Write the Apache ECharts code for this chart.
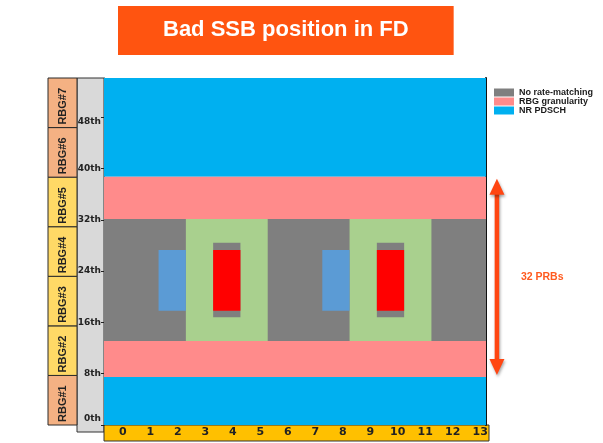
<!DOCTYPE html>
<html><head><meta charset="utf-8">
<script src="https://cdn.jsdelivr.net/npm/echarts/dist/echarts.min.js"></script>
<style>html,body{margin:0;padding:0;background:#fff}#c{width:603px;height:443px}</style>
</head><body><div id="c"></div>
<script>
// ---- data ----
const titleText = 'Bad SSB position in FD';
const symbols = ['0','1','2','3','4','5','6','7','8','9','10','11','12','13'];
const symbolCount = 14;
const prbMax = 54.1;
const prbStep = 8;
const rbgNames = ['RBG#1','RBG#2','RBG#3','RBG#4','RBG#5','RBG#6','RBG#7'];
const rbgInBand = [0,1,1,1,1,0,0];
// rectangles: [symbolStart, symbolEnd, prbStart, prbEnd]
const nrPdsch = [[0,14,0,7.5],[0,14,38.7,54.1]];
const rbgGranularity = [[0,14,7.5,13.1],[0,14,32.1,38.7]];
const noRateMatching = [[0,14,13.1,32.1]];
const greenBlocks = [[3,6,13.1,32.1],[9,12,13.1,32.1]];
const grayInner = [[4,5,16.8,28.4],[10,11,16.8,28.4]];
const redBlocks = [[4,5,17.8,27.3],[10,11,17.8,27.3]];
const blueBlocks = [[2,3,17.8,27.3],[8,9,17.8,27.3]];
const arrowSpan = [14.4, 7.8, 38.4];
const arrowText = '32 PRBs';

// ---- chart ----
const chart = echarts.init(document.getElementById('c'));
function rectRender(params, api){
  const a = api.coord([api.value(0), api.value(3)]);
  const b = api.coord([api.value(1), api.value(2)]);
  return {type:'rect', shape:{x:a[0], y:a[1], width:b[0]-a[0], height:b[1]-a[1]},
    style:{fill: api.visual('color')}};
}
function rectSeries(name, data, color, z){
  return {type:'custom', name:name, xAxisIndex:2, yAxisIndex:2, z:z, clip:false,
    itemStyle:{color:color}, encode:{x:[0,1], y:[2,3]},
    renderItem: rectRender, data:data, silent:true};
}
const rbgData = rbgNames.map((n,i)=>[0,1,i,i+1,rbgInBand[i]]);

const option = {
  animation:false,
  title:{text:titleText, left:118, top:6, backgroundColor:'#ff5410', padding:[13,45,14,45],
    textStyle:{color:'#fff', fontSize:22, fontWeight:'bold', fontFamily:'Liberation Sans', lineHeight:22}},
  legend:{data:['No rate-matching','RBG granularity','NR PDSCH'], orient:'vertical', left:494, top:88,
    itemWidth:20, itemHeight:8, itemGap:0, icon:'rect', selectedMode:false, padding:0,
    textStyle:{fontSize:9, fontWeight:'bold', color:'#1a1a1a', fontFamily:'Liberation Sans', lineHeight:8}},
  grid:[
    {left:48, top:78, width:29, height:347},
    {left:77, top:78, width:27, height:354, show:true, backgroundColor:'#d9d9d9', borderColor:'#333', borderWidth:1},
    {left:104, top:78, width:382, height:347},
    {left:104, top:425, width:385, height:16, show:true, backgroundColor:'#ffc000', borderColor:'#333', borderWidth:1}
  ],
  xAxis:[
    {gridIndex:0, type:'value', min:0, max:1, show:false},
    {gridIndex:1, type:'value', min:0, max:1, show:false},
    {gridIndex:2, type:'value', min:0, max:symbolCount, show:false},
    {gridIndex:3, type:'category', data:symbols, position:'bottom',
      axisLine:{show:false}, axisTick:{show:false}, splitLine:{show:false},
      axisLabel:{inside:true, margin:3, fontSize:11, fontWeight:'bold', fontFamily:'DejaVu Sans', color:'#222', padding:[0,0,0,10]}}
  ],
  yAxis:[
    {gridIndex:0, type:'value', min:0, max:7, show:false},
    {gridIndex:1, type:'value', min:0, max:1, show:false},
    {gridIndex:2, type:'value', min:0, max:prbMax, interval:prbStep, position:'left',
      axisLine:{show:true, lineStyle:{color:'#222', width:1}},
      axisTick:{show:true, length:3, lineStyle:{color:'#222'}},
      splitLine:{show:false},
      axisLabel:{showMaxLabel:false, margin:3, fontSize:9, fontWeight:'bold', fontFamily:'DejaVu Sans', color:'#222',
        formatter:function(v){
          if (v % prbStep !== 0) return '';
          if (v === 0) return '{lo|' + v + 'th}';
          if (v === 48) return '{hi|' + v + 'th}';
          return v + 'th';
        },
        rich:{lo:{padding:[0,0,12,0], fontSize:9, fontWeight:'bold', fontFamily:'DejaVu Sans', color:'#222'},
              hi:{padding:[9,0,0,0], fontSize:9, fontWeight:'bold', fontFamily:'DejaVu Sans', color:'#222'}}}},
    {gridIndex:2, type:'value', min:0, max:prbMax, position:'right',
      axisLine:{show:true, lineStyle:{color:'#111', width:2}}, axisTick:{show:false}, axisLabel:{show:false}, splitLine:{show:false}},
    {gridIndex:3, type:'value', show:false}
  ],
  series:[
    {type:'custom', name:'rbg', xAxisIndex:0, yAxisIndex:0, clip:false, silent:true,
      encode:{x:[0,1], y:[2,3]}, data:rbgData,
      renderItem:function(params, api){
        const a = api.coord([api.value(0), api.value(3)]);
        const b = api.coord([api.value(1), api.value(2)]);
        const inBand = api.value(4) === 1;
        return {type:'group', children:[
          {type:'rect', shape:{x:a[0], y:a[1], width:b[0]-a[0], height:b[1]-a[1]},
            style:{fill: inBand ? '#ffd966' : '#f4b183', stroke:'#2a2a2a', lineWidth:1}},
          {type:'text', x:(a[0]+b[0])/2, y:b[1]-3, rotation:Math.PI/2,
            style:{text: rbgNames[params.dataIndex], fill:'#222', align:'left', verticalAlign:'middle',
              font:'bold 11px "Liberation Sans Narrow", "Liberation Sans", sans-serif'}}
        ]};
      }},
    rectSeries('NR PDSCH', nrPdsch, '#00b0f0', 1),
    rectSeries('RBG granularity', rbgGranularity, '#ff8b8b', 1),
    rectSeries('No rate-matching', noRateMatching, '#7f7f7f', 1),
    rectSeries('green', greenBlocks, '#a9d08e', 2),
    rectSeries('grayInner', grayInner, '#7f7f7f', 3),
    rectSeries('red', redBlocks, '#ff0000', 4),
    rectSeries('blueBlocks', blueBlocks, '#5b9bd5', 4),
    {type:'custom', name:'arrow', xAxisIndex:2, yAxisIndex:2, clip:false, silent:true, z:5,
      encode:{x:0, y:[1,2]}, data:[arrowSpan],
      renderItem:function(params, api){
        const top = api.coord([api.value(0), api.value(2)]);
        const bot = api.coord([api.value(0), api.value(1)]);
        const x = top[0], hw = 7.5, hh = 16, col = '#ff4612';
        const sh = {shadowBlur:3, shadowColor:'rgba(0,0,0,0.35)', shadowOffsetX:1, shadowOffsetY:2};
        return {type:'group', children:[
          {type:'line', shape:{x1:x, y1:top[1]+hh-2, x2:x, y2:bot[1]-hh+2},
            style:Object.assign({stroke:col, lineWidth:4.5}, sh)},
          {type:'polygon', shape:{points:[[x, top[1]], [x-hw, top[1]+hh], [x+hw, top[1]+hh]]},
            style:Object.assign({fill:col}, sh)},
          {type:'polygon', shape:{points:[[x, bot[1]], [x-hw, bot[1]-hh], [x+hw, bot[1]-hh]]},
            style:Object.assign({fill:col}, sh)},
          {type:'text', x:x+24, y:(top[1]+bot[1])/2,
            style:{text:arrowText, fill:'#ff5a1f', align:'left', verticalAlign:'middle',
              font:'bold 10.5px "Liberation Sans", sans-serif'}}
        ]};
      }},
    {type:'custom', name:'axisband', xAxisIndex:3, yAxisIndex:4, data:[], renderItem:function(){return null;}}
  ]
};
chart.setOption(option);
</script>
</body></html>
